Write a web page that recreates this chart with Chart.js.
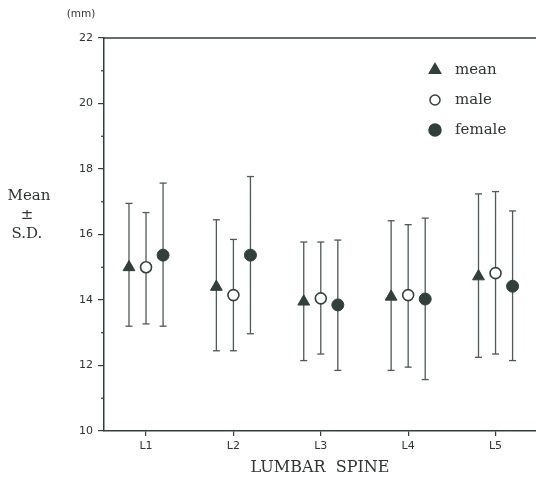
<!DOCTYPE html>
<html>
<head>
<meta charset="utf-8">
<script src="https://cdn.jsdelivr.net/npm/chart.js@4.4.1/dist/chart.umd.min.js"></script>
<style>
html,body{margin:0;padding:0;background:#fff;}
#wrap{position:relative;width:536px;height:492px;}
</style>
</head>
<body>
<div id="wrap"><canvas id="c" width="536" height="492"></canvas></div>
<script>
// ---- data ----
const categories = ['L1', 'L2', 'L3', 'L4', 'L5'];
const yTicks = [10, 12, 14, 16, 18, 20, 22];
const seriesNames = ['mean', 'male', 'female'];
const meanVal   = [15.0, 14.4, 13.95, 14.1, 14.72];
const meanLo    = [13.2, 12.45, 12.15, 11.85, 12.25];
const meanHi    = [16.95, 16.45, 15.77, 16.42, 17.24];
const maleVal   = [15.0, 14.15, 14.05, 14.15, 14.82];
const maleLo    = [13.27, 12.45, 12.35, 11.95, 12.35];
const maleHi    = [16.67, 15.85, 15.77, 16.3, 17.31];
const femaleVal = [15.37, 15.37, 13.85, 14.03, 14.42];
const femaleLo  = [13.2, 12.97, 11.85, 11.57, 12.15];
const femaleHi  = [17.57, 17.77, 15.83, 16.5, 16.72];

// ---- styling ----
const ink = '#33403a';
const lineCol = '#4e5a54';
const textCol = '#2f3532';
const shift = 0.195; // horizontal offset of each series within a group

function pts(vals, off) { return vals.map((v, i) => ({x: i + 1 + off, y: v})); }
function whisk(lo, hi, off) {
  const out = [];
  lo.forEach((l, i) => {
    out.push({x: i + 1 + off, y: l});
    out.push({x: i + 1 + off, y: hi[i]});
    out.push({x: i + 1 + off, y: null});
  });
  return out;
}
function whiskerDs(lo, hi, off) {
  return {
    type: 'line', data: whisk(lo, hi, off), showLine: true, spanGaps: false,
    borderColor: lineCol, borderWidth: 1.3, pointStyle: 'line', pointRadius: 3.5,
    pointBorderColor: lineCol, pointBorderWidth: 1.3, pointHoverRadius: 3.5, order: 3
  };
}

const legendSpec = [
  {name: seriesNames[0], style: 'triangle', r: 6.5, fill: ink, y: 70},
  {name: seriesNames[1], style: 'circle', r: 5, fill: '#fff', y: 100},
  {name: seriesNames[2], style: 'circle', r: 6, fill: ink, y: 130}
];

const framePlugin = {
  id: 'frame',
  afterDraw(chart) {
    const ctx = chart.ctx, a = chart.chartArea, ys = chart.scales.y;
    ctx.save();
    ctx.strokeStyle = ink; ctx.lineWidth = 1.5;
    ctx.beginPath(); ctx.moveTo(a.left - 1, a.top); ctx.lineTo(a.right, a.top); ctx.stroke();
    // minor ticks at odd values
    ctx.lineWidth = 1.2;
    for (let v = ys.min + 1; v < ys.max; v += 2) {
      const py = ys.getPixelForValue(v);
      ctx.beginPath(); ctx.moveTo(a.left - 3, py); ctx.lineTo(a.left, py); ctx.stroke();
    }
    // legend
    legendSpec.forEach(s => {
      ctx.fillStyle = s.fill; ctx.strokeStyle = ink; ctx.lineWidth = 1.5;
      Chart.helpers.drawPoint(ctx, {pointStyle: s.style, radius: s.r, rotation: 0, borderWidth: 1.5}, 435, s.y);
      ctx.fillStyle = textCol;
      ctx.font = '15px "DejaVu Serif"';
      ctx.textBaseline = 'middle'; ctx.textAlign = 'left';
      ctx.fillText(s.name, 455, s.y);
    });
    // unit + y title
    ctx.font = '10.5px "DejaVu Sans"';
    ctx.textAlign = 'center';
    ctx.fillText('(mm)', 81, 14);
    ctx.font = '15px "DejaVu Serif"';
    ctx.fillText('Mean', 29, 196);
    ctx.fillText('\u00B1', 27, 215);
    ctx.fillText('S.D.', 27, 234);
    ctx.restore();
  }
};

new Chart(document.getElementById('c'), {
  type: 'scatter',
  data: {
    datasets: [
      whiskerDs(meanLo, meanHi, -shift),
      whiskerDs(maleLo, maleHi, 0),
      whiskerDs(femaleLo, femaleHi, shift),
      {label: seriesNames[0], data: pts(meanVal, -shift), pointStyle: 'triangle', pointRadius: 6.8,
       backgroundColor: ink, borderColor: ink, borderWidth: 1, order: 1},
      {label: seriesNames[1], data: pts(maleVal, 0), pointStyle: 'circle', pointRadius: 5.5,
       backgroundColor: '#fff', borderColor: ink, borderWidth: 1.6, order: 1},
      {label: seriesNames[2], data: pts(femaleVal, shift), pointStyle: 'circle', pointRadius: 6,
       backgroundColor: ink, borderColor: ink, borderWidth: 1, order: 1}
    ]
  },
  options: {
    responsive: false, animation: false,
    layout: {autoPadding: false, padding: {top: 38, left: 0, right: 0, bottom: 0}},
    plugins: {legend: {display: false}, tooltip: {enabled: false}},
    scales: {
      x: {
        type: 'linear', min: 0.519, max: 5.463,
        afterBuildTicks: s => { s.ticks = categories.map((c, i) => ({value: i + 1})); },
        afterFit: s => { s.height = 61; },
        ticks: {autoSkip: false, color: textCol, font: {family: 'DejaVu Sans', size: 11}, padding: 4,
                callback: v => categories[Math.round(v) - 1]},
        grid: {drawOnChartArea: false, drawTicks: true, tickLength: 5, color: ink, lineWidth: 1.2},
        border: {display: true, color: ink, width: 1.5},
        title: {display: true, text: 'LUMBAR  SPINE', color: textCol,
                font: {family: 'DejaVu Serif', size: 16}, padding: {top: 0, bottom: 15}}
      },
      y: {
        min: 10, max: 22,
        afterBuildTicks: s => { s.ticks = []; for (let v = 10; v <= 22; v++) s.ticks.push({value: v}); },
        afterFit: s => { s.width = 104; },
        ticks: {autoSkip: false, color: textCol, font: {family: 'DejaVu Sans', size: 11}, padding: 5,
                callback: v => yTicks.includes(v) ? String(v) : ''},
        grid: {drawOnChartArea: false, drawTicks: true, tickLength: 6, lineWidth: 1.2,
               tickColor: c => (c.tick && yTicks.includes(c.tick.value)) ? ink : 'rgba(0,0,0,0)'},
        border: {display: true, color: ink, width: 1.5}
      }
    }
  },
  plugins: [framePlugin]
});
</script>
</body>
</html>
